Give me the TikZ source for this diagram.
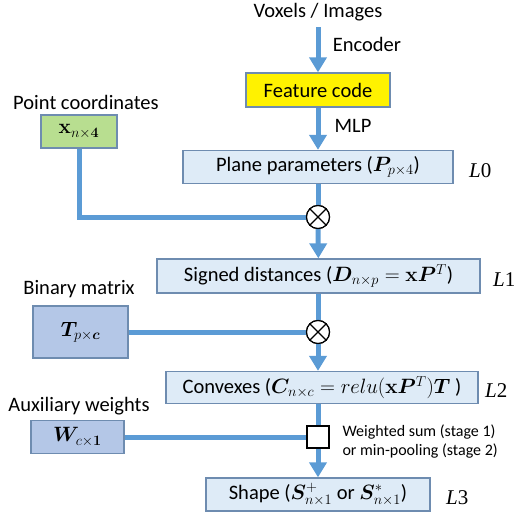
\documentclass[tikz,border=0pt]{standalone}
\usepackage{amsmath,amssymb}
\usepackage{bm}
\usepackage[no-math]{fontspec}
\setmainfont{Carlito}
\newfontfamily\timesfont{Liberation Serif}
\usepackage{xcolor}
\usepackage{tikz}
\usetikzlibrary{positioning,calc,arrows.meta}
\definecolor{flowblue}{RGB}{91,155,213}
\definecolor{boxline}{RGB}{110,140,176}
\definecolor{lightbox}{RGB}{222,235,247}
\definecolor{matbox}{RGB}{180,199,231}
\definecolor{greenbox}{RGB}{184,222,144}
\tikzset{
  layer/.style={draw=boxline,line width=1.3pt,fill=lightbox,minimum height=33pt,inner sep=0pt,font=\fontsize{20.5}{24}\selectfont},
  inbox/.style={draw=boxline,line width=1.3pt,minimum height=33pt,inner sep=0pt,font=\fontsize{20.5}{24}\selectfont},
  lbl/.style={font=\fontsize{20.5}{24}\selectfont},
  lev/.style={font=\timesfont\fontsize{21}{24}\selectfont,anchor=west},
  pipe/.style={draw=flowblue,line width=5pt},
  flow/.style={pipe,-{Triangle[width=17pt,length=15pt]}},
  op/.style={circle,draw,line width=1.2pt,fill=white,minimum size=23pt,inner sep=0pt}
}
\begin{document}
\begin{tikzpicture}[x=1pt,y=-1pt]
    \useasboundingbox (0,0) rectangle (515,514);
    % main column
    \node[lbl] (src) at (318,12) {Voxels / Images};
    \node[inbox,fill=yellow,minimum width=144pt,minimum height=34pt] (feat) at (318,90) {Feature code};
    \node[layer,minimum width=270pt] (plane) at (318,167) {Plane parameters ($\bm{P}_{p\times 4}$)};
    \node[op] (mul1) at (318,217) {};
    \node[layer,minimum width=323pt,minimum height=34pt] (signed) at (318.5,276) {Signed distances ($\bm{D}_{n\times p}=\mathbf{x}\bm{P}^T$)};
    \node[op] (mul2) at (318,332) {};
    \node[layer,minimum width=312pt,minimum height=32pt] (convex) at (322,387.5) {Convexes ($\bm{C}_{n\times c}=relu(\mathbf{x}\bm{P}^T)\bm{T}$ )};
    \node[draw,line width=1.2pt,fill=white,minimum size=22pt,inner sep=0pt] (pool) at (318,437) {};
    \node[layer,minimum width=224pt] (shape) at (318,494.5) {Shape ($\bm{S}^{+}_{n\times 1}$ or $\bm{S}^{*}_{n\times 1}$)};
    % inputs on the left
    \node[lbl] at (86,102) {Point coordinates};
    \node[inbox,fill=greenbox,minimum width=76pt] (pts) at (79,131.5) {$\mathbf{x}_{n\times\mathbf{4}}$};
    \node[lbl] at (79,289) {Binary matrix};
    \node[inbox,fill=matbox,minimum width=95pt,minimum height=52pt] (bin) at (80.5,332) {$\bm{T}_{p\times\bm{c}}$};
    \node[lbl] at (79,406) {Auxiliary weights};
    \node[inbox,fill=matbox,minimum width=93pt] (aux) at (77.5,437) {$\bm{W}_{c\times\mathbf{1}}$};
    % text beside
    \node[lbl] at (367,44) {Encoder};
    \node[lbl] at (353,126) {MLP};
    \node[anchor=west,align=left,font=\fontsize{16}{19}\selectfont] at (339,442) {Weighted sum (stage 1)\\or min-pooling (stage 2)};
    \node[lev] at ($(plane.east)+(12,4)$) {\textit{L}0};
    \node[lev] at ($(signed.east)+(9,4)$) {\textit{L}1};
    \node[lev] at ($(convex.east)+(3,3)$) {\textit{L}2};
    \node[lev] at ($(shape.east)+(12,3)$) {\textit{L}3};
    % connectors
    \draw[flow,shorten <=3pt] (src) -- (feat);
    \draw[flow] (feat) -- (plane);
    \draw[pipe] (plane) -- (mul1);
    \draw[pipe] (pts.south) |- (mul1.west);
    \draw[flow] (mul1) -- (signed);
    \draw[pipe] (signed.south -| mul2) -- (mul2);
    \draw[pipe] (bin) -- (mul2);
    \draw[flow] (mul2) -- (mul2 |- convex.north);
    \draw[pipe] (convex.south -| pool) -- (pool);
    \draw[pipe] (aux) -- (pool);
    \draw[flow] (pool) -- (shape);
    % redraw operators on top
    \node[op] at (mul1) {};
    \draw[line width=1.2pt] (mul1.north west) -- (mul1.south east) (mul1.north east) -- (mul1.south west);
    \node[op] at (mul2) {};
    \draw[line width=1.2pt] (mul2.north west) -- (mul2.south east) (mul2.north east) -- (mul2.south west);
    \node[draw,line width=1.2pt,fill=white,minimum size=22pt,inner sep=0pt] at (pool) {};
\end{tikzpicture}
\end{document}
